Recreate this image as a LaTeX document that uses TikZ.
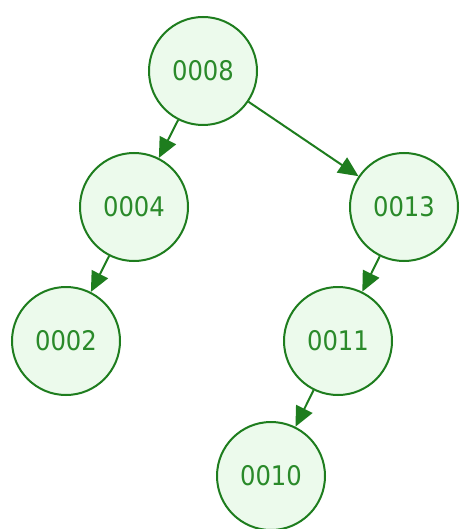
\documentclass[tikz,border=0pt]{standalone}
\usepackage{fontspec}
\setmainfont{DejaVu Sans Condensed}
\usetikzlibrary{arrows.meta}
\definecolor{edgegreen}{HTML}{1E7D1E}
\definecolor{txtgreen}{HTML}{2A8A2A}
\definecolor{fillgreen}{HTML}{ECFAEC}
\tikzset{
  tnode/.style={circle, draw=edgegreen, line width=2pt, fill=fillgreen, minimum size=108pt, inner sep=0pt, text=txtgreen, font=\fontsize{27}{27}\selectfont},
  tedge/.style={draw=edgegreen, line width=2pt, -{Triangle[length=20pt,width=18pt]}}
}
\begin{document}
\begin{tikzpicture}[x=1pt,y=-1pt]
\useasboundingbox (0,0) rectangle (460,529);
\node[tnode] (n8) at (203,71) {0008};
\node[tnode] (n4) at (134,207) {0004};
\node[tnode] (n13) at (404,207) {0013};
\node[tnode] (n2) at (66,341) {0002};
\node[tnode] (n11) at (338,341) {0011};
\node[tnode] (n10) at (271,476) {0010};
\draw[tedge] (n8) -- (n4);
\draw[tedge] (n8) -- (n13);
\draw[tedge] (n4) -- (n2);
\draw[tedge] (n13) -- (n11);
\draw[tedge] (n11) -- (n10);
\end{tikzpicture}
\end{document}
